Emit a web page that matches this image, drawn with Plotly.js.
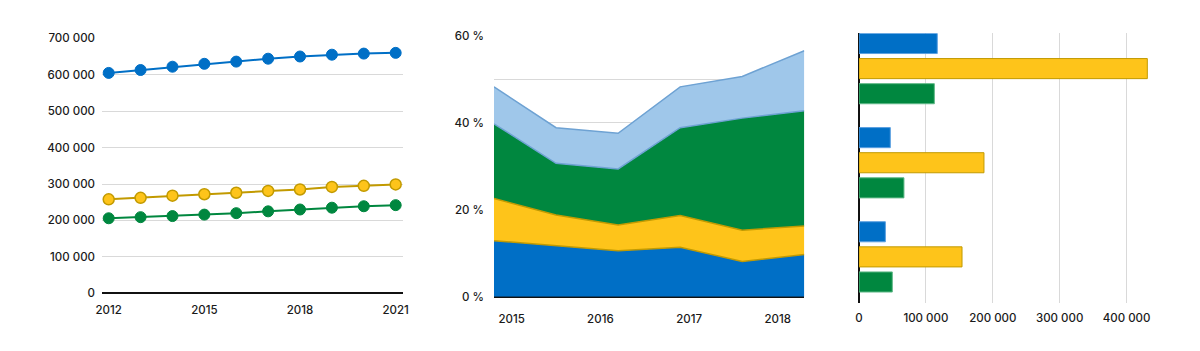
<!DOCTYPE html>
<html>
<head>
<meta charset="utf-8">
<script src="https://cdn.plot.ly/plotly-3.0.1.min.js"></script>
<style>html,body{margin:0;padding:0;background:#fff;}#chart{width:1200px;height:351px;}</style>
</head>
<body>
<div id="chart"></div>
<script>
// ---- Chart 1: line chart ----
const years = [2012, 2013, 2014, 2015, 2016, 2017, 2018, 2019, 2020, 2021];
const lineBlue = [605000, 613000, 622000, 630000, 636000, 644000, 650000, 655000, 658000, 660000];
const lineYellow = [258000, 262000, 268000, 272000, 276000, 281000, 285000, 292000, 295000, 299000];
const lineGreen = [206000, 209000, 212000, 216000, 220000, 225000, 230000, 235000, 239000, 242000];
const lineYearTicks = [2012, 2015, 2018, 2021];
const lineYTicks = [0, 100000, 200000, 300000, 400000, 500000, 600000, 700000];
const lineYLabels = ['0', '100 000', '200 000', '300 000', '400 000', '500 000', '600 000', '700 000'];

// ---- Chart 2: stacked area (percent) ----
const periods = [2014.8, 2015.5, 2016.2, 2016.9, 2017.6, 2018.3];
const areaBlue = [12.9, 11.7, 10.6, 11.4, 8.1, 9.7];
const areaYellow = [9.7, 7.1, 5.9, 7.3, 7.2, 6.6];
const areaGreen = [17.2, 11.9, 12.9, 20.2, 25.8, 26.5];
const areaLight = [8.5, 8.2, 8.2, 9.4, 9.6, 13.8];
const areaXTicks = [2015, 2016, 2017, 2018];
const areaYTicks = [0, 10, 20, 30, 40, 50, 60];
const areaYLabels = ['0 %', '', '20 %', '', '40 %', '', '60 %'];

// ---- Chart 3: grouped horizontal bars ----
const barGroups = ['Group 1', 'Group 2', 'Group 3'];
const barBlue = [117000, 46800, 39400];
const barYellow = [431000, 186800, 154000];
const barGreen = [112600, 67200, 49800];
const barXTicks = [0, 100000, 200000, 300000, 400000];
const barXLabels = ['0', '100 000', '200 000', '300 000', '400 000'];

const C = {
  blue: '#006fc6', yellow: '#fec41a', yellowLine: '#c29a00', green: '#00873f',
  light: '#9fc7ea', lightLine: '#6ea2d3', blueEdge: '#5a9fe0', greenEdge: '#5fb887'
};
const W = 1200, H = 351;
const fx = (a, b) => [a / W, b / W];
const fy = (top, bottom) => [(H - bottom) / H, (H - top) / H];
const font = {family: 'Inter, "Noto Sans", sans-serif', size: 11.5, color: '#1a1a1a', weight: 500};

const traces = [
  // chart 1
  {x: years, y: lineBlue, type: 'scatter', mode: 'lines+markers', xaxis: 'x', yaxis: 'y',
   line: {color: C.blue, width: 2}, marker: {size: 11, color: C.blue, line: {color: C.blue, width: 1}}, cliponaxis: false},
  {x: years, y: lineYellow, type: 'scatter', mode: 'lines+markers', xaxis: 'x', yaxis: 'y',
   line: {color: C.yellowLine, width: 2}, marker: {size: 11, color: C.yellow, line: {color: C.yellowLine, width: 1.5}}, cliponaxis: false},
  {x: years, y: lineGreen, type: 'scatter', mode: 'lines+markers', xaxis: 'x', yaxis: 'y',
   line: {color: C.green, width: 2}, marker: {size: 11, color: C.green, line: {color: C.green, width: 1}}, cliponaxis: false},
  // chart 2
  {x: periods, y: areaBlue, type: 'scatter', mode: 'lines', stackgroup: 'a', xaxis: 'x2', yaxis: 'y2',
   fillcolor: C.blue, line: {color: C.yellowLine, width: 1.5}},
  {x: periods, y: areaYellow, type: 'scatter', mode: 'lines', stackgroup: 'a', xaxis: 'x2', yaxis: 'y2',
   fillcolor: C.yellow, line: {color: C.yellowLine, width: 1.5}},
  {x: periods, y: areaGreen, type: 'scatter', mode: 'lines', stackgroup: 'a', xaxis: 'x2', yaxis: 'y2',
   fillcolor: C.green, line: {color: C.lightLine, width: 1.5}},
  {x: periods, y: areaLight, type: 'scatter', mode: 'lines', stackgroup: 'a', xaxis: 'x2', yaxis: 'y2',
   fillcolor: C.light, line: {color: C.lightLine, width: 1.5}},
  // chart 3
  {y: barGroups, x: barBlue, type: 'bar', orientation: 'h', xaxis: 'x3', yaxis: 'y3',
   marker: {color: C.blue, line: {color: C.blueEdge, width: 1}}},
  {y: barGroups, x: barYellow, type: 'bar', orientation: 'h', xaxis: 'x3', yaxis: 'y3',
   marker: {color: C.yellow, line: {color: C.yellowLine, width: 1}}},
  {y: barGroups, x: barGreen, type: 'bar', orientation: 'h', xaxis: 'x3', yaxis: 'y3',
   marker: {color: C.green, line: {color: C.greenEdge, width: 1}}}
];

const grid = '#d9d9d9';
const layout = {
  width: W, height: H, margin: {l: 0, r: 0, t: 0, b: 0},
  paper_bgcolor: '#fff', plot_bgcolor: 'rgba(0,0,0,0)', showlegend: false, font: font,
  barmode: 'group', bargap: 0.2, bargroupgap: 0.2,
  xaxis: {domain: fx(102, 403), range: [2011.79, 2021.23], tickvals: lineYearTicks, ticktext: lineYearTicks.map(String),
    showgrid: false, zeroline: false, showline: false, ticks: '', tickfont: font, anchor: 'y', ticklabelstandoff: 8},
  yaxis: {domain: fy(38.3, 293.3), range: [0, 700000], tickvals: lineYTicks, ticktext: lineYLabels,
    showgrid: true, gridcolor: grid, gridwidth: 1, zeroline: true, zerolinecolor: '#111', zerolinewidth: 2,
    showline: false, ticks: '', tickfont: font, anchor: 'x', ticklabelstandoff: 6},
  xaxis2: {domain: fx(494, 804.3), range: [2014.8, 2018.3], tickvals: areaXTicks, ticktext: areaXTicks.map(String),
    showgrid: false, zeroline: false, showline: false, ticks: '', tickfont: font, anchor: 'y2', ticklabelstandoff: 14},
  yaxis2: {domain: fy(36, 296.7), range: [0, 60], tickmode: 'array', tickvals: areaYTicks, ticktext: areaYLabels,
    showgrid: true, gridcolor: grid, zeroline: true, zerolinecolor: '#111', zerolinewidth: 3,
    showline: false, ticks: '', tickfont: font, anchor: 'x2', ticklabelstandoff: 9},
  xaxis3: {domain: fx(859, 1150), range: [0, 435000], tickvals: barXTicks, ticktext: barXLabels,
    showgrid: true, gridcolor: grid, zeroline: true, zerolinecolor: '#111', zerolinewidth: 2,
    showline: false, ticks: '', tickfont: font, anchor: 'y3', ticklabelstandoff: 6},
  yaxis3: {domain: fy(33.3, 303), range: [2.49, -0.375], type: 'category', categoryorder: 'array', categoryarray: barGroups,
    showticklabels: false, showgrid: false, zeroline: false, showline: false, ticks: '', anchor: 'x3'}
};

Plotly.newPlot('chart', traces, layout, {displayModeBar: false, staticPlot: true});
</script>
</body>
</html>
